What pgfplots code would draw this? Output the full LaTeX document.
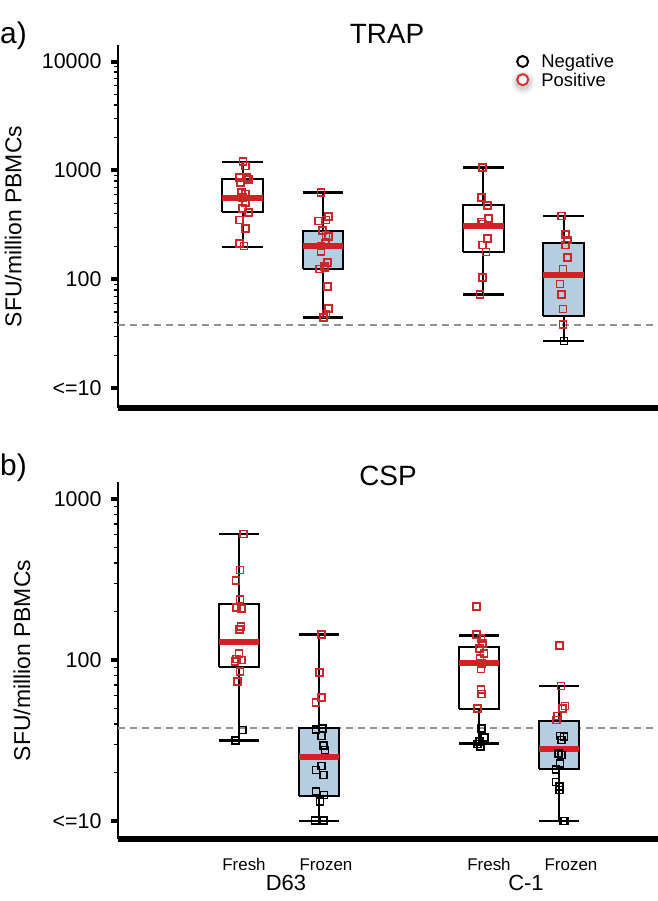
\documentclass[border=0pt]{standalone}
\usepackage{fontspec}
\setmainfont{Liberation Sans}
\usepackage{pgfplots}
\pgfplotsset{compat=1.18}
\definecolor{ptred}{RGB}{200,40,42}
\definecolor{medred}{RGB}{212,32,36}
\definecolor{boxblue}{RGB}{180,205,225}
\definecolor{dashgray}{RGB}{145,145,145}
\definecolor{legred}{RGB}{215,50,50}

% #1 left, #2 centre, #3 right, #4 lower whisker, #5 Q1, #6 median, #7 Q3, #8 upper whisker, #9 fill
\newcommand{\bx}[9]{%
  \addplot[black, line width=2bp] coordinates {(#2,#4) (#2,#8)};
  \addplot[black, line width=2.5bp] coordinates {(#1,#4) (#3,#4)};
  \addplot[black, line width=2.5bp] coordinates {(#1,#8) (#3,#8)};
  \addplot[draw=black, fill=#9, line width=2bp, line join=miter] coordinates {(#1,#5) (#3,#5) (#3,#7) (#1,#7) (#1,#5)};
  \addplot[medred, line width=5.8bp] coordinates {(#1,#6) (#3,#6)};
}

\begin{document}
\begin{tikzpicture}
\path[use as bounding box] (0,0) rectangle (658bp,-901bp);

% ---------------- a) TRAP ----------------
\begin{axis}[
  scale only axis, width=540bp, height=363bp,
  at={(118bp,-408bp)}, anchor=south west,
  ymode=log,
  axis x line=bottom, axis y line=left,
  axis line style={-},
  x axis line style={line width=5.5bp},
  y axis line style={line width=2.2bp},
  xtick=\empty,
  tick align=outside,
  major tick length=7bp, minor tick length=4bp,
  every major tick/.style={line width=4bp, black},
  every minor tick/.style={line width=1.3bp, black},
  yticklabel style={font=\fontsize{21.5}{21.5}\selectfont, black, xshift=-6bp},
  ylabel={SFU/million PBMCs},
  clip=false,
  xmin=-0.553, xmax=6.177,
  ymin=6.58, ymax=14190,
  ytick={10,100,1000,10000},
  yticklabels={{<=10},100,1000,10000},
  minor ytick={20,30,40,50,60,70,80,90,200,300,400,500,600,700,800,900,2000,3000,4000,5000,6000,7000,8000,9000},
  ylabel style={at={(axis description cs:-0.194,0.5)}, anchor=center, font=\fontsize{23}{23}\selectfont},
  legend style={draw=none, fill=none, at={(axis description cs:0.7296,0.9725)}, anchor=north west,
    inner sep=0bp, outer sep=0bp, column sep=7bp, row sep=-0.5bp,
    font=\fontsize{18.5}{18.5}\selectfont,
    nodes={inner sep=0bp, outer sep=0bp, text height=13bp, text depth=4bp}},
  legend cell align=left,
]
\addlegendimage{legend image code/.code={\draw[black, line width=2bp] (0bp,2bp) circle (5.5bp);}}
\addlegendentry{Negative}
\addlegendimage{legend image code/.code={%
   \fill[black, opacity=0.05] (0.5bp,-1bp) circle (11bp);
   \fill[black, opacity=0.06] (0.5bp,-0.5bp) circle (9bp);
   \fill[black, opacity=0.07] (0.3bp,0bp) circle (7.5bp);
   \fill[white] (0bp,2bp) circle (5.5bp);
   \draw[legred, line width=2bp] (0bp,2bp) circle (5.5bp);}}
\addlegendentry{Positive}

\addplot[dashgray, line width=2bp, dash pattern=on 7bp off 5bp] coordinates {(-0.553,38) (6.177,38)};

\bx{0.747}{1}{1.253}{199}{412}{558}{828}{1194}{white}
\bx{1.747}{2}{2.253}{44.4}{124}{202}{276}{630}{boxblue}
\bx{3.747}{4}{4.253}{72.8}{177}{309}{478}{1059}{white}
\bx{4.747}{5}{5.253}{27.1}{46}{109}{214}{381}{boxblue}

\addplot[only marks, mark=square, mark size=3.5bp, draw=ptred, mark options={line width=1.7bp, solid}] coordinates {(1.004,1212) (1.037,1097) (0.963,864) (1.046,857) (1.075,828) (0.975,771) (0.984,624) (1.037,607) (0.996,566) (1.034,505) (0.996,449) (1.075,412) (0.963,351) (1.037,292) (0.963,214) (1.016,202)};
\addplot[only marks, mark=square, mark size=3.5bp, draw=ptred, mark options={line width=1.7bp, solid}] coordinates {(1.978,630) (1.948,343) (2.040,351) (2.072,376) (1.998,279) (2.040,255) (2.068,246) (2.031,214) (1.978,202) (1.978,179) (2.060,143) (2.019,132) (2.025,129) (1.957,124) (2.060,85.5) (2.068,54.2) (2.040,48) (2.006,44.8)};
\addplot[only marks, mark=square, mark size=3.5bp, draw=ptred, mark options={line width=1.7bp, solid}] coordinates {(3.991,1059) (3.975,561) (4.053,478) (4.066,360) (3.975,336) (3.991,322) (4.053,236) (3.991,207) (4.034,178) (3.991,103.5) (3.959,72.8)};
\addplot[only marks, mark=square, mark size=3.5bp, draw=ptred, mark options={line width=1.7bp, solid}] coordinates {(4.978,381) (5.027,259) (5.047,230) (5.027,207) (5.047,158) (4.994,124) (4.957,90.6) (4.978,72.8) (4.994,53.4) (4.994,38.6)};
\addplot[only marks, mark=square, mark size=3.5bp, draw=black, mark options={line width=1.7bp, solid}] coordinates {(5.006,27.1)};
\end{axis}

% ---------------- b) CSP ----------------
\begin{axis}[
  scale only axis, width=540bp, height=357bp,
  at={(118bp,-839bp)}, anchor=south west,
  ymode=log,
  axis x line=bottom, axis y line=left,
  axis line style={-},
  x axis line style={line width=5.5bp},
  y axis line style={line width=2.2bp},
  xtick=\empty,
  tick align=outside,
  major tick length=7bp, minor tick length=4bp,
  every major tick/.style={line width=4bp, black},
  every minor tick/.style={line width=1.3bp, black},
  yticklabel style={font=\fontsize{21.5}{21.5}\selectfont, black, xshift=-6bp},
  ylabel={SFU/million PBMCs},
  clip=false,
  xmin=-0.5125, xmax=6.2375,
  ymin=7.73, ymax=1276,
  ytick={10,100,1000},
  yticklabels={{<=10},100,1000},
  minor ytick={20,30,40,50,60,70,80,90,200,300,400,500,600,700,800,900},
  ylabel style={at={(axis description cs:-0.178,0.5)}, anchor=center, font=\fontsize{23}{23}\selectfont},
]
\addplot[dashgray, line width=2bp, dash pattern=on 7bp off 5bp] coordinates {(-0.5125,38) (6.2375,38)};

\bx{0.75}{1}{1.25}{31.7}{90.1}{129}{222}{606}{white}
\bx{1.75}{2}{2.25}{10}{14.4}{24.9}{37.6}{144}{boxblue}
\bx{3.75}{4}{4.25}{30.4}{49.9}{96.2}{120}{141.6}{white}
\bx{4.75}{5}{5.25}{10}{20.9}{28.1}{42}{69}{boxblue}

\addplot[only marks, mark=square, mark size=3.5bp, draw=ptred, mark options={line width=1.7bp, solid}] coordinates {(1.054,606) (1.0125,362) (0.9625,311) (1.0125,238) (0.971,211) (1.034,210) (1.025,161) (1.004,155) (1.0,110) (0.971,101.4) (1.034,100) (0.95,97.6) (1.0125,84.6) (0.979,73.3)};
\addplot[only marks, mark=square, mark size=3.5bp, draw=black, mark options={line width=1.7bp, solid}] coordinates {(1.046,36.7) (0.959,31.7)};
\addplot[only marks, mark=square, mark size=3.5bp, draw=ptred, mark options={line width=1.7bp, solid}] coordinates {(2.034,144) (2.004,83.4) (2.034,58.6) (1.963,54.3)};
\addplot[only marks, mark=square, mark size=3.5bp, draw=black, mark options={line width=1.7bp, solid}] coordinates {(1.963,37.1) (2.046,37.6) (2.034,33.7) (2.054,29.4) (2.075,27.6) (2.034,22) (1.963,20.7) (2.054,19.3) (1.963,15.2) (2.0625,14.5) (2.0125,13.2) (1.95,10.1) (2.054,10.1)};
\addplot[only marks, mark=square, mark size=3.5bp, draw=ptred, mark options={line width=1.7bp, solid}] coordinates {(3.971,214) (3.971,144) (4.025,136) (4.046,127) (4.004,118) (4.0625,110) (4.0125,102.5) (4.034,95.4) (4.025,88) (4.025,65.8) (4.034,61.5) (3.984,50)};
\addplot[only marks, mark=square, mark size=3.5bp, draw=black, mark options={line width=1.7bp, solid}] coordinates {(4.034,37.7) (4.066,33.1) (4.004,31.1) (3.979,30.1) (4.021,28.9)};
\addplot[only marks, mark=square, mark size=3.5bp, draw=ptred, mark options={line width=1.7bp, solid}] coordinates {(5.004,123) (5.025,69) (5.075,51.8) (5.046,50) (4.979,44.9) (4.971,42.4)};
\addplot[only marks, mark=square, mark size=3.5bp, draw=black, mark options={line width=1.7bp, solid}] coordinates {(5.0125,33.7) (5.0625,33.4) (5.034,31.9) (4.991,26.3) (5.034,25.7) (5.0125,22.8) (4.9625,20.9) (4.9625,17.5) (5.004,16.3) (5.004,15.6) (5.054,10) (5.075,10)};
\end{axis}

% ---------------- texts ----------------
\node[anchor=base west, inner sep=0pt, font=\fontsize{30}{30}\selectfont] at (0bp,-43bp) {a)};
\node[anchor=base west, inner sep=0pt, font=\fontsize{30}{30}\selectfont] at (0bp,-475bp) {b)};
\node[anchor=base, inner sep=0pt, font=\fontsize{28}{28}\selectfont] at (387bp,-43bp) {TRAP};
\node[anchor=base, inner sep=0pt, font=\fontsize{28}{28}\selectfont] at (388bp,-485bp) {CSP};
\node[anchor=base, inner sep=0pt, font=\fontsize{17}{17}\selectfont] at (244bp,-870bp) {Fresh};
\node[anchor=base, inner sep=0pt, font=\fontsize{17}{17}\selectfont] at (326bp,-870bp) {Frozen};
\node[anchor=base, inner sep=0pt, font=\fontsize{17}{17}\selectfont] at (489bp,-870bp) {Fresh};
\node[anchor=base, inner sep=0pt, font=\fontsize{17}{17}\selectfont] at (571bp,-870bp) {Frozen};
\node[anchor=base, inner sep=0pt, font=\fontsize{22}{22}\selectfont] at (286bp,-890bp) {D63};
\node[anchor=base, inner sep=0pt, font=\fontsize{22}{22}\selectfont] at (526bp,-890bp) {C-1};
\end{tikzpicture}
\end{document}
